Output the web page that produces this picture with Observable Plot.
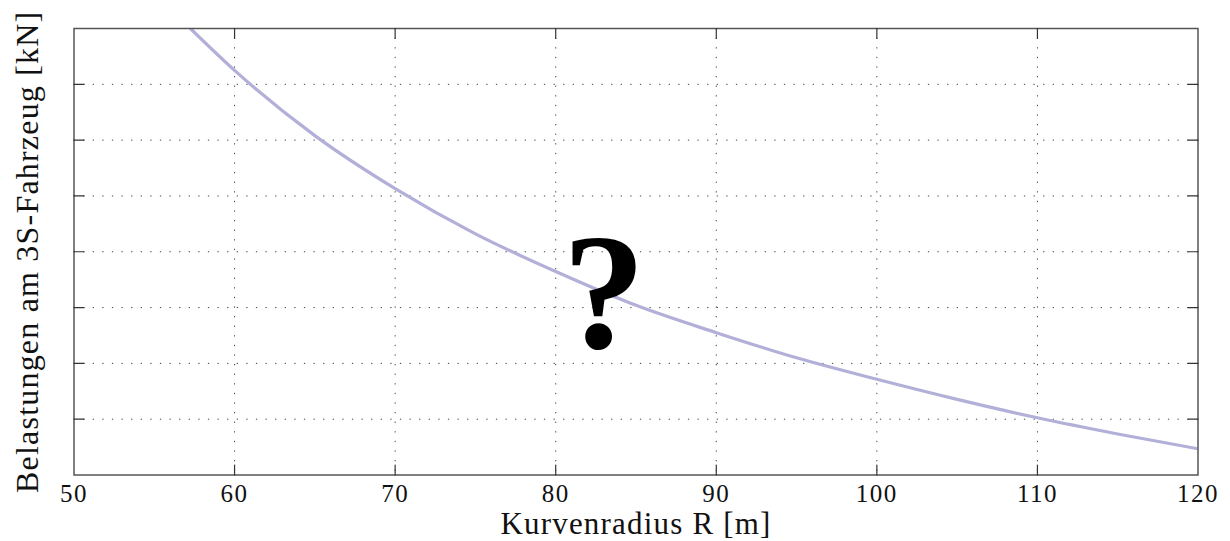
<!DOCTYPE html>
<html>
<head>
<meta charset="utf-8">
<script src="https://cdn.jsdelivr.net/npm/d3@7"></script>
<script src="https://cdn.jsdelivr.net/npm/@observablehq/plot@0.6"></script>
<style>
  html, body { margin: 0; padding: 0; background: #fff; }
  #chart svg { display: block; }
</style>
</head>
<body>
<div id="chart"></div>
<script>
// Data (y in grid units, axis unlabeled)
const radius = [57.25, 60, 65, 70, 75, 80, 85, 90, 95, 100, 105, 110, 115, 120];
const load   = [8.0, 7.25, 6.08, 5.13, 4.32, 3.645, 3.04, 2.55, 2.10, 1.715, 1.355, 1.025, 0.735, 0.47];
const xTicks = [50, 60, 70, 80, 90, 100, 110, 120];
const xInner = [60, 70, 80, 90, 100, 110];
const yInner = [1, 2, 3, 4, 5, 6, 7];
const xLabel = "Kurvenradius R [m]";
const yLabel = "Belastungen am 3S-Fahrzeug [kN]";
const note = [{x: 83.0, y: 2.27, text: "?"}];

const curveData = radius.map((r, i) => ({r, v: load[i]}));
const font = "'Liberation Serif', 'Times New Roman', serif";
const tickShape = {draw(ctx, l) { ctx.moveTo(0, 0); ctx.lineTo(0, -l); }};
const tickStyle = {length: 10, anchor: "start", shape: tickShape, stroke: "#333", strokeWidth: 1.2};

const chart = Plot.plot({
  width: 1230,
  height: 541,
  marginLeft: 73.5,
  marginRight: 32.5,
  marginTop: 28,
  marginBottom: 66.5,
  style: {fontFamily: font, background: "#fff", color: "#111"},
  x: {domain: [50, 120]},
  y: {domain: [0, 8]},
  marks: [
    Plot.gridX(xInner, {stroke: "#444", strokeOpacity: 1, strokeWidth: 1, strokeDasharray: "1.3,8.3"}),
    Plot.gridY(yInner, {stroke: "#444", strokeOpacity: 1, strokeWidth: 1, strokeDasharray: "1.3,8.3"}),
    Plot.line(curveData, {x: "r", y: "v", stroke: "#b2afd8", strokeWidth: 3.2, curve: "monotone-x", clip: true}),
    Plot.text(note, {x: "x", y: "y", text: "text", fontSize: 166, fontWeight: "bold", lineAnchor: "bottom", fill: "#000", fontFamily: font}),
    Plot.frame({stroke: "#555", strokeWidth: 1.5}),
    Plot.vector(xInner, {x: d => d, frameAnchor: "bottom", rotate: 0, ...tickStyle}),
    Plot.vector(xInner, {x: d => d, frameAnchor: "top", rotate: 180, ...tickStyle}),
    Plot.vector(yInner, {y: d => d, frameAnchor: "left", rotate: 90, ...tickStyle}),
    Plot.vector(yInner, {y: d => d, frameAnchor: "right", rotate: -90, ...tickStyle}),
    Plot.axisX(xTicks, {tickSize: 0, tickPadding: 9, fontSize: 25, label: null, fill: "#111"}),
    Plot.axisY({ticks: [], label: null, tickSize: 0}),
    Plot.text([xLabel], {text: d => d, frameAnchor: "bottom", textAnchor: "middle", dy: 59, lineAnchor: "bottom", fontSize: 31, fill: "#111", fontFamily: font}),
    Plot.text([yLabel], {text: d => d, frameAnchor: "left", textAnchor: "middle", rotate: -90, dx: -36.5, lineAnchor: "bottom", fontSize: 32, fill: "#111", fontFamily: font})
  ]
});
const spacing = new Map([[xLabel, "1.2px"], [yLabel, "1.2px"]]);
xTicks.forEach(t => spacing.set(String(t), "1.5px"));
d3.select(chart).selectAll("text").each(function() {
  const s = spacing.get(this.textContent);
  if (s) this.style.letterSpacing = s;
});
document.getElementById("chart").appendChild(chart);
</script>
</body>
</html>
